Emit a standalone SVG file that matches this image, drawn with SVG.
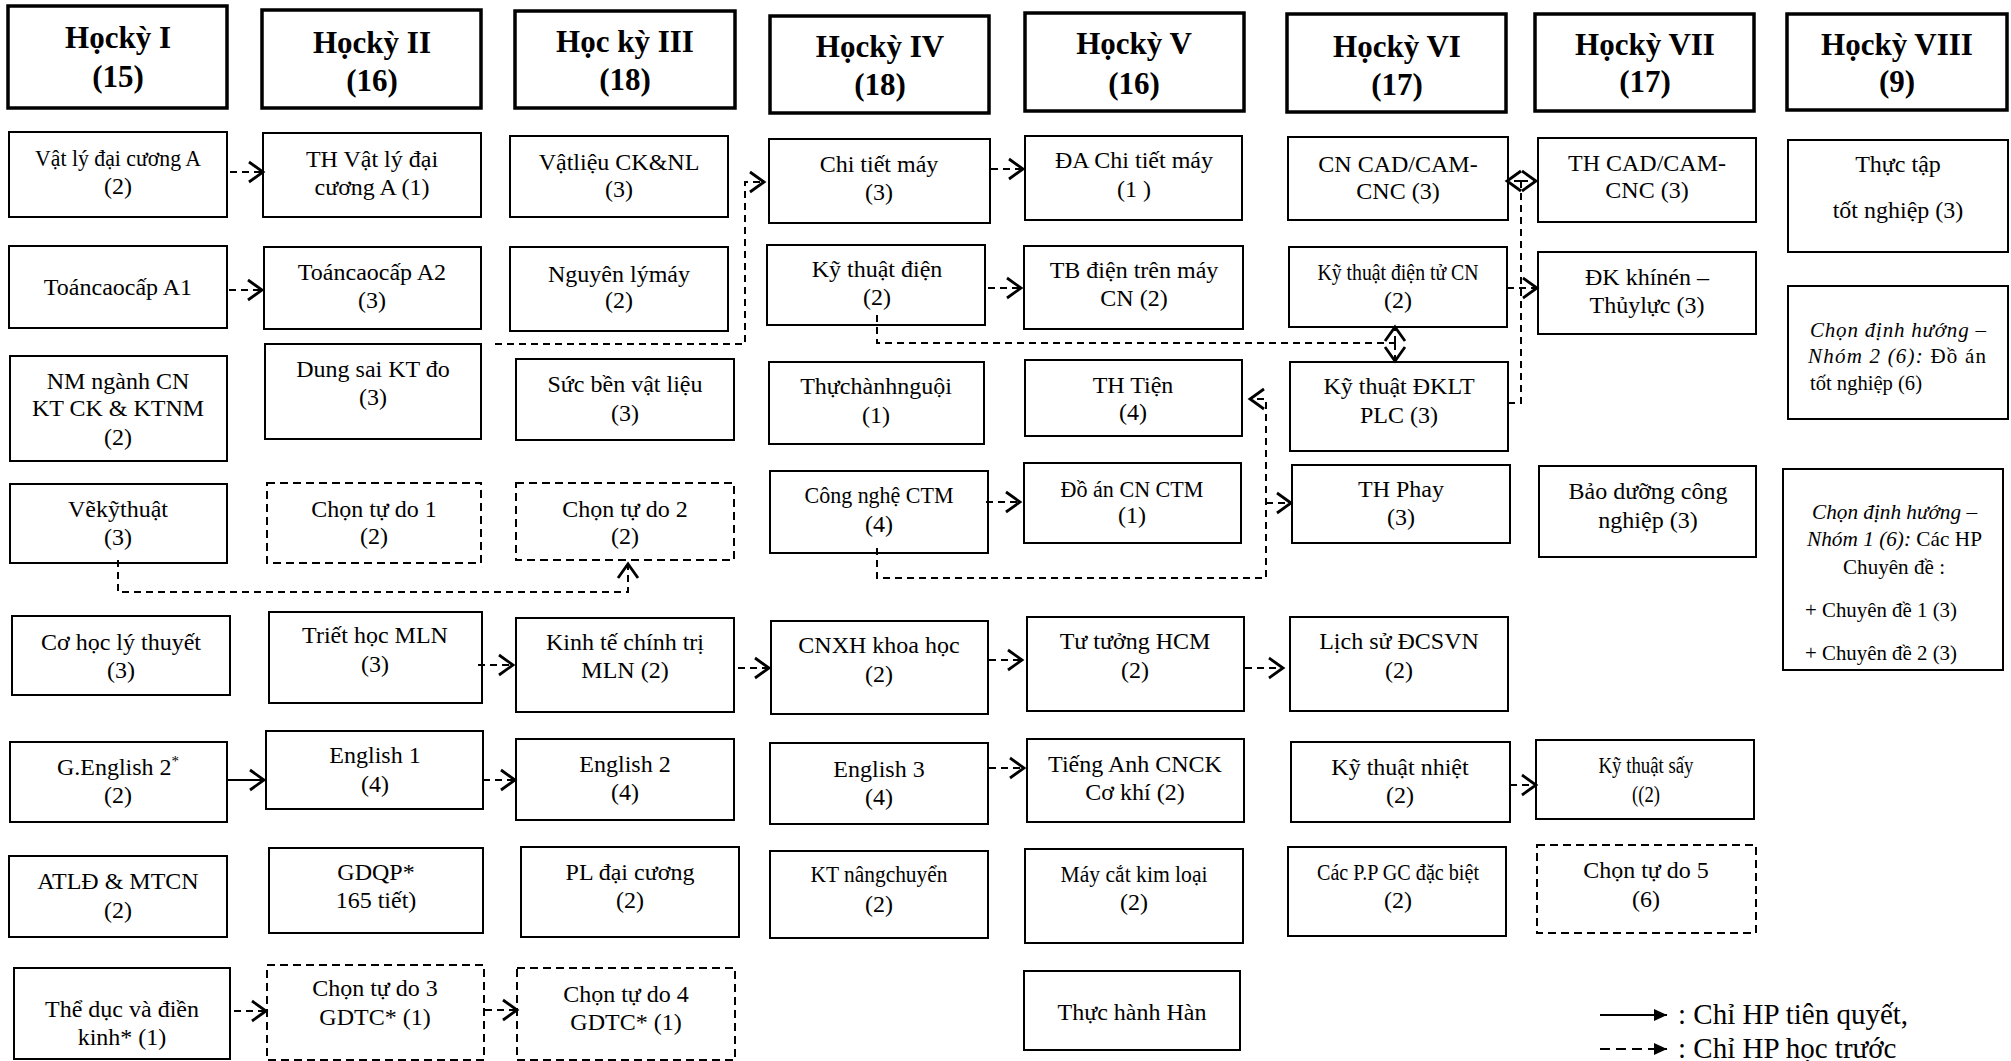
<svg xmlns="http://www.w3.org/2000/svg" width="2011" height="1061" viewBox="0 0 2011 1061">
<style>
.box{fill:#fff;stroke:#000;stroke-width:2}
.dbox{fill:#fff;stroke:#000;stroke-width:2;stroke-dasharray:8 5}
.hdr{fill:#fff;stroke:#000;stroke-width:3.5}
.t{font-family:"Liberation Serif","Times New Roman",serif;font-size:24px;text-anchor:middle;fill:#000}
.ht{font-weight:bold;font-size:31px}
.s{font-size:21px}
.l{text-anchor:start}
.i{font-style:italic}
.c{fill:none;stroke:#000;stroke-width:2;stroke-dasharray:7 5}
.cs{fill:none;stroke:#000;stroke-width:2}
.lg{font-family:"Liberation Serif","Times New Roman",serif;font-size:29px;fill:#000}
</style>
<defs>
<marker id="ch" markerUnits="userSpaceOnUse" markerWidth="20" markerHeight="26" refX="16" refY="12" orient="auto">
<path d="M2,2 L16,12 L2,22" fill="none" stroke="#000" stroke-width="2.8" stroke-dasharray="none"/>
</marker>
<marker id="tri" markerUnits="userSpaceOnUse" markerWidth="16" markerHeight="14" refX="13" refY="6" orient="auto">
<path d="M0,0 L13,6 L0,12 z" fill="#000" stroke="none"/>
</marker>
</defs>
<rect width="2011" height="1061" fill="#fff"/>

<!-- headers -->
<g id="n-hk1"><rect class="hdr" x="8" y="6" width="219" height="102"/><text class="t ht" x="118" y="48">Họckỳ I</text><text class="t ht" x="118" y="87">(15)</text></g>
<g id="n-hk2"><rect class="hdr" x="262" y="10" width="219" height="98"/><text class="t ht" x="372" y="53">Họckỳ II</text><text class="t ht" x="372" y="91">(16)</text></g>
<g id="n-hk3"><rect class="hdr" x="515" y="11" width="220" height="97"/><text class="t ht" x="625" y="52">Học kỳ III</text><text class="t ht" x="625" y="90">(18)</text></g>
<g id="n-hk4"><rect class="hdr" x="770" y="16" width="219" height="97"/><text class="t ht" x="880" y="57">Họckỳ IV</text><text class="t ht" x="880" y="95">(18)</text></g>
<g id="n-hk5"><rect class="hdr" x="1025" y="13" width="219" height="98"/><text class="t ht" x="1134" y="54">Họckỳ V</text><text class="t ht" x="1134" y="94">(16)</text></g>
<g id="n-hk6"><rect class="hdr" x="1287" y="14" width="219" height="98"/><text class="t ht" x="1397" y="57">Họckỳ VI</text><text class="t ht" x="1397" y="95">(17)</text></g>
<g id="n-hk7"><rect class="hdr" x="1535" y="14" width="219" height="97"/><text class="t ht" x="1645" y="55">Họckỳ VII</text><text class="t ht" x="1645" y="92">(17)</text></g>
<g id="n-hk8"><rect class="hdr" x="1787" y="14" width="220" height="96"/><text class="t ht" x="1897" y="55">Họckỳ VIII</text><text class="t ht" x="1897" y="92">(9)</text></g>

<!-- column 1 -->
<g id="n-vatly"><rect class="box" x="9" y="132" width="218" height="85"/><text class="t" x="118" y="166" textLength="166" lengthAdjust="spacingAndGlyphs">Vật lý đại cương A</text><text class="t" x="118" y="194">(2)</text></g>
<g id="n-toan1"><rect class="box" x="9" y="246" width="218" height="82"/><text class="t" x="118" y="295">Toáncaocấp A1</text></g>
<g id="n-nm"><rect class="box" x="10" y="356" width="217" height="105"/><text class="t" x="118" y="389">NM ngành CN</text><text class="t" x="118" y="416">KT CK &amp; KTNM</text><text class="t" x="118" y="445">(2)</text></g>
<g id="n-vekt"><rect class="box" x="10" y="484" width="217" height="79"/><text class="t" x="118" y="517">Vẽkỹthuật</text><text class="t" x="118" y="545">(3)</text></g>
<g id="n-cohoc"><rect class="box" x="12" y="616" width="218" height="79"/><text class="t" x="121" y="650">Cơ học lý thuyết</text><text class="t" x="121" y="678">(3)</text></g>
<g id="n-gen2"><rect class="box" x="10" y="742" width="217" height="80"/><text class="t" x="118" y="775">G.English 2<tspan font-size="15" dy="-9">*</tspan></text><text class="t" x="118" y="803">(2)</text></g>
<g id="n-atld"><rect class="box" x="9" y="856" width="218" height="81"/><text class="t" x="118" y="889">ATLĐ &amp; MTCN</text><text class="t" x="118" y="918">(2)</text></g>
<g id="n-theduc"><rect class="box" x="14" y="968" width="216" height="91"/><text class="t" x="122" y="1017">Thể dục và điền</text><text class="t" x="122" y="1045">kinh* (1)</text></g>

<!-- column 2 -->
<g id="n-thvl"><rect class="box" x="263" y="133" width="218" height="84"/><text class="t" x="372" y="167">TH Vật lý đại</text><text class="t" x="372" y="195">cương A (1)</text></g>
<g id="n-toan2"><rect class="box" x="264" y="247" width="217" height="82"/><text class="t" x="372" y="280">Toáncaocấp A2</text><text class="t" x="372" y="308">(3)</text></g>
<g id="n-dungsai"><rect class="box" x="265" y="344" width="216" height="95"/><text class="t" x="373" y="377">Dung sai KT đo</text><text class="t" x="373" y="405">(3)</text></g>
<g id="n-ctd1"><rect class="dbox" x="267" y="483" width="214" height="80"/><text class="t" x="374" y="517">Chọn tự do 1</text><text class="t" x="374" y="544">(2)</text></g>
<g id="n-triet"><rect class="box" x="269" y="612" width="213" height="91"/><text class="t" x="375" y="643">Triết học MLN</text><text class="t" x="375" y="672">(3)</text></g>
<g id="n-en1"><rect class="box" x="266" y="731" width="217" height="78"/><text class="t" x="375" y="763">English 1</text><text class="t" x="375" y="792">(4)</text></g>
<g id="n-gdqp"><rect class="box" x="269" y="848" width="214" height="85"/><text class="t" x="376" y="880">GDQP*</text><text class="t" x="376" y="908">165 tiết)</text></g>
<g id="n-ctd3"><rect class="dbox" x="267" y="965" width="217" height="95"/><text class="t" x="375" y="996">Chọn tự do 3</text><text class="t" x="375" y="1025">GDTC* (1)</text></g>

<!-- column 3 -->
<g id="n-vatlieu"><rect class="box" x="510" y="136" width="218" height="81"/><text class="t" x="619" y="170">Vậtliệu CK&amp;NL</text><text class="t" x="619" y="197">(3)</text></g>
<g id="n-nguyenly"><rect class="box" x="510" y="247" width="218" height="84"/><text class="t" x="619" y="282" textLength="142" lengthAdjust="spacingAndGlyphs">Nguyên lýmáy</text><text class="t" x="619" y="308">(2)</text></g>
<g id="n-sucben"><rect class="box" x="516" y="359" width="218" height="81"/><text class="t" x="625" y="392">Sức bền vật liệu</text><text class="t" x="625" y="421">(3)</text></g>
<g id="n-ctd2"><rect class="dbox" x="516" y="483" width="218" height="77"/><text class="t" x="625" y="517">Chọn tự do 2</text><text class="t" x="625" y="544">(2)</text></g>
<g id="n-kinhte"><rect class="box" x="516" y="618" width="218" height="94"/><text class="t" x="625" y="650">Kinh tế chính trị</text><text class="t" x="625" y="678">MLN (2)</text></g>
<g id="n-en2"><rect class="box" x="516" y="739" width="218" height="81"/><text class="t" x="625" y="772">English 2</text><text class="t" x="625" y="800">(4)</text></g>
<g id="n-pl"><rect class="box" x="521" y="847" width="218" height="90"/><text class="t" x="630" y="880">PL đại cương</text><text class="t" x="630" y="908">(2)</text></g>
<g id="n-ctd4"><rect class="dbox" x="517" y="968" width="218" height="92"/><text class="t" x="626" y="1002">Chọn tự do 4</text><text class="t" x="626" y="1030">GDTC* (1)</text></g>

<!-- column 4 -->
<g id="n-chitiet"><rect class="box" x="769" y="139" width="221" height="84"/><text class="t" x="879" y="172">Chi tiết máy</text><text class="t" x="879" y="200">(3)</text></g>
<g id="n-ktdien"><rect class="box" x="767" y="245" width="218" height="80"/><text class="t" x="877" y="277">Kỹ thuật điện</text><text class="t" x="877" y="305">(2)</text></g>
<g id="n-thnguoi"><rect class="box" x="769" y="362" width="215" height="82"/><text class="t" x="876" y="394">Thựchànhnguội</text><text class="t" x="876" y="423">(1)</text></g>
<g id="n-cnctm"><rect class="box" x="770" y="471" width="218" height="82"/><text class="t" x="879" y="503" textLength="149" lengthAdjust="spacingAndGlyphs">Công nghệ CTM</text><text class="t" x="879" y="532">(4)</text></g>
<g id="n-cnxh"><rect class="box" x="771" y="621" width="217" height="93"/><text class="t" x="879" y="653">CNXH khoa học</text><text class="t" x="879" y="682">(2)</text></g>
<g id="n-en3"><rect class="box" x="770" y="743" width="218" height="81"/><text class="t" x="879" y="777">English 3</text><text class="t" x="879" y="805">(4)</text></g>
<g id="n-ktnc"><rect class="box" x="770" y="851" width="218" height="87"/><text class="t" x="879" y="882" textLength="137" lengthAdjust="spacingAndGlyphs">KT nângchuyển</text><text class="t" x="879" y="912">(2)</text></g>

<!-- column 5 -->
<g id="n-dactm"><rect class="box" x="1025" y="136" width="217" height="84"/><text class="t" x="1134" y="168">ĐA Chi tiết máy</text><text class="t" x="1134" y="197">(1 )</text></g>
<g id="n-tbdien"><rect class="box" x="1024" y="246" width="219" height="83"/><text class="t" x="1134" y="278">TB điện trên máy</text><text class="t" x="1134" y="306">CN (2)</text></g>
<g id="n-thtien"><rect class="box" x="1025" y="360" width="217" height="76"/><text class="t" x="1133" y="393">TH Tiện</text><text class="t" x="1133" y="420">(4)</text></g>
<g id="n-doan"><rect class="box" x="1024" y="463" width="217" height="80"/><text class="t" x="1132" y="497" textLength="143" lengthAdjust="spacingAndGlyphs">Đồ án CN CTM</text><text class="t" x="1132" y="523">(1)</text></g>
<g id="n-tutuong"><rect class="box" x="1027" y="617" width="217" height="94"/><text class="t" x="1135" y="649">Tư tưởng HCM</text><text class="t" x="1135" y="678">(2)</text></g>
<g id="n-tienganh"><rect class="box" x="1027" y="739" width="217" height="83"/><text class="t" x="1135" y="772">Tiếng Anh CNCK</text><text class="t" x="1135" y="800">Cơ khí (2)</text></g>
<g id="n-maycat"><rect class="box" x="1025" y="849" width="218" height="94"/><text class="t" x="1134" y="882" textLength="147" lengthAdjust="spacingAndGlyphs">Máy cắt kim loại</text><text class="t" x="1134" y="910">(2)</text></g>
<g id="n-han"><rect class="box" x="1024" y="971" width="216" height="79"/><text class="t" x="1132" y="1020">Thực hành Hàn</text></g>

<!-- column 6 -->
<g id="n-cad"><rect class="box" x="1288" y="137" width="220" height="83"/><text class="t" x="1398" y="172">CN CAD/CAM-</text><text class="t" x="1398" y="199">CNC (3)</text></g>
<g id="n-ktdt"><rect class="box" x="1289" y="247" width="218" height="80"/><text class="t" x="1398" y="280" textLength="161" lengthAdjust="spacingAndGlyphs">Kỹ thuật điện tử CN</text><text class="t" x="1398" y="308">(2)</text></g>
<g id="n-dklt"><rect class="box" x="1290" y="362" width="218" height="89"/><text class="t" x="1399" y="394">Kỹ thuật ĐKLT</text><text class="t" x="1399" y="423">PLC (3)</text></g>
<g id="n-thphay"><rect class="box" x="1292" y="465" width="218" height="78"/><text class="t" x="1401" y="497">TH Phay</text><text class="t" x="1401" y="525">(3)</text></g>
<g id="n-lichsu"><rect class="box" x="1290" y="617" width="218" height="94"/><text class="t" x="1399" y="649">Lịch sử ĐCSVN</text><text class="t" x="1399" y="678">(2)</text></g>
<g id="n-ktnhiet"><rect class="box" x="1291" y="742" width="219" height="80"/><text class="t" x="1400" y="775">Kỹ thuật nhiệt</text><text class="t" x="1400" y="803">(2)</text></g>
<g id="n-ccpp"><rect class="box" x="1288" y="847" width="218" height="89"/><text class="t" x="1398" y="880" textLength="162" lengthAdjust="spacingAndGlyphs">Các P.P GC đặc biệt</text><text class="t" x="1398" y="908">(2)</text></g>

<!-- column 7 -->
<g id="n-thcad"><rect class="box" x="1538" y="138" width="218" height="84"/><text class="t" x="1647" y="171">TH CAD/CAM-</text><text class="t" x="1647" y="198">CNC (3)</text></g>
<g id="n-dk"><rect class="box" x="1538" y="252" width="218" height="82"/><text class="t" x="1647" y="285">ĐK khínén –</text><text class="t" x="1647" y="313">Thủylực (3)</text></g>
<g id="n-baoduong"><rect class="box" x="1539" y="466" width="217" height="91"/><text class="t" x="1648" y="499">Bảo dưỡng công</text><text class="t" x="1648" y="528">nghiệp (3)</text></g>
<g id="n-ktsay"><rect class="box" x="1536" y="740" width="218" height="79"/><text class="t" x="1646" y="773" textLength="95" lengthAdjust="spacingAndGlyphs">Kỹ thuật sấy</text><text class="t" x="1646" y="802" textLength="28" lengthAdjust="spacingAndGlyphs">((2)</text></g>
<g id="n-ctd5"><rect class="dbox" x="1537" y="845" width="219" height="88"/><text class="t" x="1646" y="878">Chọn tự do 5</text><text class="t" x="1646" y="907">(6)</text></g>

<!-- column 8 -->
<g id="n-thuctap"><rect class="box" x="1788" y="140" width="220" height="112"/><text class="t" x="1898" y="172">Thực tập</text><text class="t" x="1898" y="218">tốt nghiệp (3)</text></g>
<g id="n-nhom2"><rect class="box" x="1788" y="286" width="220" height="133"/>
<text class="t s l i" x="1810" y="337" textLength="176" lengthAdjust="spacing">Chọn định hướng –</text>
<text class="t s l" x="1808" y="363" textLength="178" lengthAdjust="spacing"><tspan class="i">Nhóm 2 (6):</tspan> Đồ án</text>
<text class="t s l" x="1810" y="390" textLength="112" lengthAdjust="spacingAndGlyphs">tốt nghiệp (6)</text></g>
<g id="n-nhom1"><rect class="box" x="1783" y="469" width="220" height="201"/>
<text class="t s l i" x="1812" y="519" textLength="165" lengthAdjust="spacingAndGlyphs">Chọn định hướng –</text>
<text class="t s l" x="1807" y="546" textLength="175" lengthAdjust="spacingAndGlyphs"><tspan class="i">Nhóm 1 (6):</tspan> Các HP</text>
<text class="t s l" x="1843" y="574" textLength="102" lengthAdjust="spacingAndGlyphs">Chuyên đề :</text>
<text class="t s l" x="1805" y="617" textLength="152" lengthAdjust="spacingAndGlyphs">+ Chuyên đề 1 (3)</text>
<text class="t s l" x="1805" y="660" textLength="152" lengthAdjust="spacingAndGlyphs">+ Chuyên đề 2 (3)</text></g>

<!-- connectors -->
<g id="connectors">
<path class="c" d="M230,172 H263" marker-end="url(#ch)"/>
<path class="c" d="M229,290 H262" marker-end="url(#ch)"/>
<path class="c" d="M495,344 H745 V182 H764" marker-end="url(#ch)"/>
<path class="c" d="M991,169 H1023" marker-end="url(#ch)"/>
<path class="c" d="M988,288 H1021" marker-end="url(#ch)"/>
<path class="c" d="M877,315 V343 H1395"/>
<path class="c" d="M1395,343 V327" marker-end="url(#ch)"/>
<path class="c" d="M1395,343 V361" marker-end="url(#ch)"/>
<path class="c" d="M1508,403 H1521 V181"/>
<path class="c" d="M1521,181 H1507" marker-end="url(#ch)"/>
<path class="c" d="M1521,181 H1536" marker-end="url(#ch)"/>
<path class="c" d="M1507,288 H1537" marker-end="url(#ch)"/>
<path class="c" d="M118,560 V592 H628 V564" marker-end="url(#ch)"/>
<path class="c" d="M877,548 V578 H1266 V399 H1250" marker-end="url(#ch)"/>
<path class="c" d="M1266,503 H1291" marker-end="url(#ch)"/>
<path class="c" d="M986,502 H1020" marker-end="url(#ch)"/>
<path class="c" d="M478,665 H513" marker-end="url(#ch)"/>
<path class="c" d="M738,668 H769" marker-end="url(#ch)"/>
<path class="c" d="M989,660 H1022" marker-end="url(#ch)"/>
<path class="c" d="M1245,668 H1283" marker-end="url(#ch)"/>
<path class="cs" d="M227,780 H264" marker-end="url(#ch)"/>
<path class="c" d="M483,780 H515" marker-end="url(#ch)"/>
<path class="c" d="M989,768 H1024" marker-end="url(#ch)"/>
<path class="c" d="M1510,785 H1536" marker-end="url(#ch)"/>
<path class="c" d="M234,1011 H266" marker-end="url(#ch)"/>
<path class="c" d="M485,1010 H517" marker-end="url(#ch)"/>
</g>

<!-- legend -->
<g id="legend">
<path class="cs" d="M1600,1015 H1667" marker-end="url(#tri)"/>
<text class="lg" x="1678" y="1024">: Chỉ HP tiên quyết,</text>
<path fill="none" stroke="#000" stroke-width="2" stroke-dasharray="10 6" d="M1600,1049 H1667" marker-end="url(#tri)"/>
<text class="lg" x="1678" y="1058">: Chỉ HP học trước</text>
</g>
</svg>
